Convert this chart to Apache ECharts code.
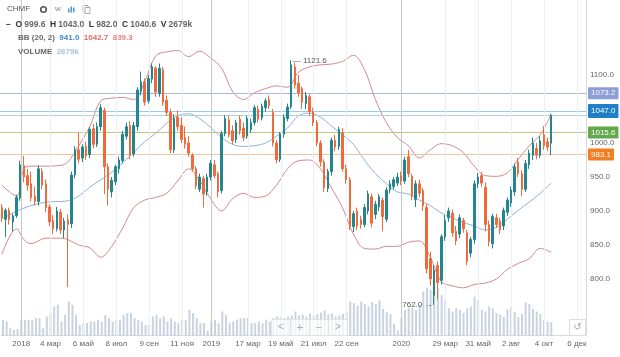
<!DOCTYPE html>
<html>
<head>
<meta charset="utf-8">
<script src="https://cdn.jsdelivr.net/npm/echarts@6/dist/echarts.min.js"></script>
<style>html,body{margin:0;padding:0;background:#fff}#c{width:620px;height:357px}</style>
</head>
<body>
<div id="c"></div>
<script>
const ticker = 'CHMF';
const firstWeek = [2017, 11, 3];   // 3 Dec 2017, weekly candles
const totalWeeks = 160;            // data weeks + empty future weeks on the axis

// [open, close, low, high]
const ohlc = [
[905,890,884,910],[888,901,862,904],[901,887,880,905],[884,893,870,896],[893,920,890,924],
[919,968,915,974],[967,950,942,981],[952,938,930,962],[940,920,914,958],[922,914,908,936],
[914,962,908,967],[958,938,932,963],[940,905,898,946],[906,884,878,910],[886,874,866,894],
[874,900,870,906],[898,872,866,903],[872,885,860,890],[887,880,788,895],[881,953,875,958],
[953,990,948,995],[990,976,970,1015],[978,994,972,998],[995,981,975,1002],[983,1020,978,1024],
[1021,998,992,1028],[998,1024,994,1030],[1024,1052,1018,1057],[1048,965,925,1052],[965,932,908,970],
[928,945,920,950],[943,965,938,968],[962,975,955,980],[974,1013,970,1018],[1010,1024,1005,1030],
[1026,982,976,1032],[984,1026,980,1031],[1024,1078,1018,1082],[1076,1090,1070,1105],[1090,1060,1055,1095],
[1062,1095,1058,1100],[1094,1112,1088,1117],[1110,1075,1068,1113],[1073,1110,1068,1117],[1108,1060,1055,1112],
[1063,1045,1040,1070],[1045,990,985,1050],[990,1036,985,1042],[1038,1024,1018,1048],[1026,1005,1000,1038],
[1008,998,992,1024],[1000,985,980,1010],[982,962,958,985],[962,937,932,966],[932,950,928,955],
[948,925,905,952],[928,950,922,955],[950,970,945,975],[968,952,948,975],[955,928,920,958],
[930,1014,926,1018],[1014,1036,1010,1041],[1034,1012,1008,1040],[1018,1003,998,1026],[1005,1030,1000,1034],
[1035,1018,1012,1040],[1022,1008,1003,1030],[1010,1036,1006,1040],[1020,1030,1015,1036],[1030,1052,1026,1056],
[1050,1035,1030,1055],[1037,1054,1033,1058],[1052,1062,1046,1066],[1064,1055,1050,1070],[1045,1000,995,1050],
[1000,975,970,1004],[976,1013,972,1016],[1013,1038,1008,1042],[1036,1053,1032,1058],[1053,1115,1050,1121.6],
[1112,1085,1080,1118],[1088,1074,1068,1100],[1080,1060,1050,1083],[1058,1070,1050,1075],[1068,1046,1040,1072],
[1046,1030,1025,1052],[1030,1000,995,1034],[1000,972,965,1004],[972,934,928,976],[933,958,928,962],
[958,1004,952,1008],[1004,994,988,1012],[995,1020,990,1024],[1015,962,958,1022],[962,946,940,968],
[946,877,872,950],[877,896,869,900],[900,878,872,905],[888,880,874,893],[880,905,876,910],
[900,925,895,930],[921,882,876,926],[895,910,888,915],[906,921,900,925],[916,892,870,920],
[888,931,884,935],[931,940,926,945],[936,946,932,950],[941,950,937,956],[952,944,938,958],
[944,975,940,980],[980,955,950,990],[951,922,916,955],[917,940,906,945],[940,926,920,946],
[930,908,900,934],[905,815,808,910],[830,800,790,840],[776,813,762,820],[820,795,770,826],
[798,862,792,866],[862,886,856,894],[890,900,884,905],[897,868,862,902],[870,856,850,878],
[866,890,860,895],[886,874,868,890],[868,826,820,872],[838,858,832,862],[858,940,852,945],
[940,950,934,956],[952,941,935,957],[935,880,870,942],[880,855,848,886],[852,892,845,896],
[890,880,875,896],[885,872,866,890],[878,901,872,905],[898,916,893,920],[912,931,906,936],
[928,965,922,970],[972,955,950,978],[955,932,922,960],[932,970,928,975],[968,985,962,990],
[982,1000,975,1008],[992,982,976,1000],[982,1003,978,1010],[1012,996,990,1025],[1002,994,988,1008],
[999.6,1040.6,982.0,1043.0]
];

// weekly volume, thousands
const volume = [
3130,2800,1470,1130,1270,3000,3130,3130,3130,3470,
3470,1470,3800,4470,5800,6130,2800,4130,6800,6130,
4130,2130,2470,2470,2800,2800,3130,2800,4130,3470,
2800,3130,3130,4130,4470,4470,3470,3130,2800,2130,
2130,3800,4130,3470,3800,2800,3470,2800,2470,3130,
3130,5130,4470,3470,2470,2500,1000,2800,3130,2470,
4800,4130,2470,2800,3130,3470,3470,3470,2470,2470,
2800,2470,3130,2800,3500,3800,3600,3500,3800,4000,
4800,4000,4200,3800,4400,4000,4300,4600,5000,4200,
4400,3800,4000,4300,4800,6800,6500,6000,6800,6300,
5800,6670,6300,7000,5300,4670,4300,2300,1000,3500,
5130,5470,5470,5130,6130,8800,9470,9130,8800,9470,
8130,7130,5470,4800,5470,5130,4470,5470,5800,7800,
7130,5130,4800,5800,5470,4500,4200,3700,5200,5600,
4700,3700,4300,6600,6300,5300,4800,4300,3000,2800,
2679
];

// Bollinger Bands (20, 2) at sample weeks
const bbDates = ['2017-12-03','2017-12-31','2018-01-14','2018-01-28','2018-02-25','2018-03-25','2018-04-08','2018-04-29',
'2018-05-20','2018-06-10','2018-07-01','2018-07-22','2018-08-12','2018-09-02','2018-09-23','2018-10-14','2018-11-04',
'2018-11-25','2018-12-16','2019-01-06','2019-01-27','2019-02-17','2019-03-10','2019-03-31','2019-04-21','2019-05-12',
'2019-06-02','2019-06-23','2019-07-14','2019-08-04','2019-08-25','2019-09-15','2019-10-06','2019-10-27','2019-11-17',
'2019-12-08','2019-12-29','2020-01-19','2020-02-09','2020-03-01','2020-03-22','2020-04-12','2020-05-03','2020-05-24',
'2020-06-14','2020-07-05','2020-07-26','2020-08-16','2020-09-06','2020-09-27','2020-10-18'];
const bbUpper = [938,922,962,966,966,967,972,996,1024,1062,1066,1067,1064,1090,1128,1134,1136,1127,1135,1125,1110,1076,
1064,1074,1080,1084,1082,1104,1112,1115,1116,1120,1129,1108,1064,1030,1008,996,978,990,999,996,986,966,952,951,956,976,996,1012,1042.7];
const bbMiddle = [888,900,904,908,913,914,915,922,935,946,957,971,986,1002,1014,1029,1040,1043,1036,1023,1008,998,
995,996,1000,1010,1022,1040,1044,1038,1025,1012,998,975,955,940,928,925,916,908,897,890,883,878,872,876,888,901,913,926,941.0];
const bbLower = [836,874,858,852,860,860,858,850,846,832,848,875,905,916,920,926,944,962,945,918,900,918,
926,920,922,938,962,974,975,962,934,905,866,845,844,848,848,854,856,832,796,790,787,792,794,800,814,823,830,845,839.3];

const tickDates = ['2018-01-07','2018-03-04','2018-05-06','2018-07-08','2018-09-09','2018-11-11','2019-01-06',
'2019-03-17','2019-05-19','2019-07-21','2019-09-22','2020-01-05','2020-03-29','2020-05-31','2020-08-02','2020-10-04','2020-12-06'];
const tickLabels = ['2018','4 мар','6 май','8 июл','9 сен','11 ноя','2019','17 мар','19 май','21 июл','22 сен',
'2020','29 мар','31 май','2 авг','4 окт','6 дек'];
const yearTickDates = ['2018-01-07','2019-01-06','2020-01-05'];

const priceLevels = [1073.2, 1047.0, 1015.6, 983.1];
const priceLevelColors = ['#aab6e4', '#9dc8ec', '#c3c87e', '#f0c4a0'];
const priceLevelBoxes = ['#8c9ed8', '#1f80c8', '#64a84c', '#f27d22'];
const peakMark = ['2019-06-09', 1121.6];
const lowMark = ['2020-03-08', 762.0];

// ---- build ----
const FONT = 'Arial, "Liberation Sans", sans-serif';
const categories = [];
const t0 = Date.UTC(firstWeek[0], firstWeek[1], firstWeek[2]);
for (let k = 0; k < totalWeeks; k++) {
  categories.push(new Date(t0 + k * 7 * 86400000).toISOString().slice(0, 10));
}
const labelMap = {};
tickDates.forEach((d, i) => { labelMap[d] = tickLabels[i]; });
const pair = (vals) => bbDates.map((d, i) => [d, vals[i]]);
const last = ohlc[ohlc.length - 1];
const lastVol = volume[volume.length - 1];
const f1 = v => Number(v).toFixed(1);

const priceMarkData = priceLevels.map((v, i) => ({
  yAxis: v,
  lineStyle: { color: priceLevelColors[i], width: 1, type: 'solid' },
  label: { show: true, backgroundColor: priceLevelBoxes[i], padding: i === 1 ? [2, 3, 4, 3] : [2, 3, 2, 3] }
}));
priceMarkData.push({ yAxis: last[1], lineStyle: { color: '#a4d6da', width: 1, type: 'solid' }, label: { show: false } });

const chart = echarts.init(document.getElementById('c'), null, { renderer: 'canvas' });
chart.setOption({
  animation: false,
  backgroundColor: '#ffffff',
  textStyle: { fontFamily: FONT },
  title: [
    { left: 7, top: 5, padding: 0, text: ticker, textStyle: { fontSize: 8, color: '#555', fontWeight: 'normal', fontFamily: FONT } },
    { left: 6, top: 20, padding: 0,
      text: '{k|−}  {k|O} {v|' + f1(last[0]) + '}  {k|H} {v|' + f1(last[3]) + '}  {k|L} {v|' + f1(last[2]) +
            '}  {k|C} {v|' + f1(last[1]) + '}  {k|V} {v|' + lastVol + 'k}',
      textStyle: { fontSize: 8, fontFamily: FONT, rich: {
        k: { fontSize: 8.5, fontWeight: 'bold', color: '#333', fontFamily: FONT },
        v: { fontSize: 8.5, color: '#666', fontFamily: FONT } } } },
    { left: 18, top: 34, padding: 0,
      text: '{g|BB (20, 2)}  {b|' + f1(bbMiddle[bbMiddle.length - 1]) + '}  {r|' + f1(bbUpper[bbUpper.length - 1]) +
            '}  {p|' + f1(bbLower[bbLower.length - 1]) + '}',
      textStyle: { fontSize: 8, fontFamily: FONT, rich: {
        g: { fontSize: 8, color: '#666', fontFamily: FONT },
        b: { fontSize: 8, color: '#3f87cf', fontFamily: FONT },
        r: { fontSize: 8, color: '#e26565', fontFamily: FONT },
        p: { fontSize: 8, color: '#e57f7f', fontFamily: FONT } } } },
    { left: 18, top: 48, padding: 0,
      text: '{g|VOLUME}  {l|' + lastVol + 'k}',
      textStyle: { fontSize: 8, fontFamily: FONT, rich: {
        g: { fontSize: 8, color: '#666', fontFamily: FONT },
        l: { fontSize: 8, color: '#a9bfd6', fontFamily: FONT } } } }
  ],
  grid: [
    { left: 0, right: 34, top: 41, bottom: 44 },
    { left: 0, right: 34, top: 0, bottom: 21.5 }
  ],
  xAxis: [
    { type: 'category', gridIndex: 0, data: categories, boundaryGap: true, show: false },
    { type: 'category', gridIndex: 1, data: categories, boundaryGap: true,
      axisLine: { show: true, lineStyle: { color: '#d9d9d9', width: 1 } },
      axisTick: { show: false },
      splitLine: { show: false },
      axisLabel: { interval: 0, margin: 4, fontSize: 8, color: '#666', fontFamily: FONT,
        formatter: v => labelMap[v] || '' } }
  ],
  yAxis: [
    { type: 'value', gridIndex: 0, position: 'right', min: 750, max: 1150, interval: 50,
      axisLine: { show: false }, axisTick: { show: false }, splitLine: { show: false },
      axisLabel: { show: true, margin: 4, fontSize: 8, color: '#666', fontFamily: FONT,
        showMinLabel: false, showMaxLabel: false, formatter: v => v.toFixed(1) } },
    { type: 'value', gridIndex: 1, position: 'right', min: 0, max: 67100,
      axisLine: { show: true, lineStyle: { color: '#d9d9d9', width: 1 } },
      axisTick: { show: false }, splitLine: { show: false }, axisLabel: { show: false } }
  ],
  series: [
    { type: 'bar', name: 'VOLUME', xAxisIndex: 1, yAxisIndex: 1, data: volume, barWidth: 2,
      itemStyle: { color: '#c9d3df' }, z: 1, silent: true,
      markLine: { silent: true, symbol: ['none', 'none'], label: { show: false },
        data: tickDates.map(d => ({ xAxis: d, lineStyle: {
          color: yearTickDates.includes(d) ? '#c6c6c6' : '#edf0f3', width: 1, type: 'solid' } })) } },
    { type: 'line', name: 'BB upper', xAxisIndex: 0, yAxisIndex: 0, data: pair(bbUpper), smooth: 0.35,
      showSymbol: false, lineStyle: { color: '#d28a88', width: 1 }, z: 3, silent: true },
    { type: 'line', name: 'BB middle', xAxisIndex: 0, yAxisIndex: 0, data: pair(bbMiddle), smooth: 0.35,
      showSymbol: false, lineStyle: { color: '#8fb1da', width: 1 }, z: 3, silent: true },
    { type: 'line', name: 'BB lower', xAxisIndex: 0, yAxisIndex: 0, data: pair(bbLower), smooth: 0.35,
      showSymbol: false, lineStyle: { color: '#d28a88', width: 1 }, z: 3, silent: true },
    { type: 'candlestick', name: ticker, xAxisIndex: 0, yAxisIndex: 0, data: ohlc, barWidth: 2, z: 5,
      itemStyle: { color: '#23868e', color0: '#ef6b3b', borderColor: '#23868e', borderColor0: '#ef6b3b', borderWidth: 1 },
      markLine: { silent: true, symbol: ['none', 'none'], z: 4,
        label: { position: 'end', distance: 2, formatter: p => Number(p.value).toFixed(1), color: '#fff',
          fontSize: 8, fontFamily: FONT, padding: [2, 3, 2, 3], borderRadius: 1 },
        data: priceMarkData },
      markPoint: { symbol: 'circle', symbolSize: 1, itemStyle: { color: 'rgba(0,0,0,0)' }, silent: true,
        data: [
          { coord: peakMark, value: peakMark[1],
            label: { show: true, position: 'right', distance: 1, formatter: '— ' + f1(peakMark[1]),
              color: '#555', fontSize: 8, fontFamily: FONT } },
          { coord: lowMark, value: lowMark[1],
            label: { show: true, position: 'left', distance: 1, formatter: f1(lowMark[1]) + ' →',
              color: '#555', fontSize: 8, fontFamily: FONT } }
        ] } }
  ],
  graphic: [
    { type: 'circle', shape: { cx: 43.5, cy: 9.5, r: 2.8 }, style: { fill: 'none', stroke: '#555', lineWidth: 1.6 }, silent: true },
    { type: 'text', x: 55, y: 5, style: { text: 'w', fill: '#888', font: '8px ' + FONT }, silent: true },
    { type: 'rect', shape: { x: 68, y: 8.5, width: 1.5, height: 4 }, style: { fill: '#4b93db' }, silent: true },
    { type: 'rect', shape: { x: 70.5, y: 6.5, width: 1.5, height: 6 }, style: { fill: '#4b93db' }, silent: true },
    { type: 'rect', shape: { x: 73, y: 7.5, width: 1.5, height: 5 }, style: { fill: '#4b93db' }, silent: true },
    { type: 'rect', shape: { x: 83, y: 5.5, width: 5, height: 6 }, style: { fill: 'none', stroke: '#aaa', lineWidth: 1 }, silent: true },
    { type: 'rect', shape: { x: 85, y: 7.5, width: 5, height: 6 }, style: { fill: '#fff', stroke: '#aaa', lineWidth: 1 }, silent: true },
    // zoom control overlay
    { type: 'rect', shape: { x: 271.5, y: 319.5, width: 19, height: 16 }, style: { fill: 'rgba(255,255,255,0.72)', stroke: '#e2e2e2' }, silent: true, z: 50 },
    { type: 'rect', shape: { x: 290.5, y: 319.5, width: 19, height: 16 }, style: { fill: 'rgba(255,255,255,0.72)', stroke: '#e2e2e2' }, silent: true, z: 50 },
    { type: 'rect', shape: { x: 309.5, y: 319.5, width: 19, height: 16 }, style: { fill: 'rgba(255,255,255,0.72)', stroke: '#e2e2e2' }, silent: true, z: 50 },
    { type: 'rect', shape: { x: 328.5, y: 319.5, width: 19, height: 16 }, style: { fill: 'rgba(255,255,255,0.72)', stroke: '#e2e2e2' }, silent: true, z: 50 },
    { type: 'text', x: 281, y: 327.5, style: { text: '<', fill: '#aaa', font: '10px ' + FONT, align: 'center', verticalAlign: 'middle', textAlign: 'center', textVerticalAlign: 'middle' }, silent: true, z: 51 },
    { type: 'text', x: 300, y: 327.5, style: { text: '+', fill: '#aaa', font: '11px ' + FONT, align: 'center', verticalAlign: 'middle', textAlign: 'center', textVerticalAlign: 'middle' }, silent: true, z: 51 },
    { type: 'text', x: 319, y: 327.5, style: { text: '−', fill: '#aaa', font: '11px ' + FONT, align: 'center', verticalAlign: 'middle', textAlign: 'center', textVerticalAlign: 'middle' }, silent: true, z: 51 },
    { type: 'text', x: 338, y: 327.5, style: { text: '>', fill: '#aaa', font: '10px ' + FONT, align: 'center', verticalAlign: 'middle', textAlign: 'center', textVerticalAlign: 'middle' }, silent: true, z: 51 },
    { type: 'rect', shape: { x: 569.5, y: 319.5, width: 16, height: 16 }, style: { fill: '#fff', stroke: '#dedede' }, silent: true, z: 50 },
    { type: 'text', x: 577.5, y: 327.5, style: { text: '↺', fill: '#aaa', font: '10px "DejaVu Sans", sans-serif', align: 'center', verticalAlign: 'middle', textAlign: 'center', textVerticalAlign: 'middle' }, silent: true, z: 51 }
  ]
});
</script>
</body>
</html>
